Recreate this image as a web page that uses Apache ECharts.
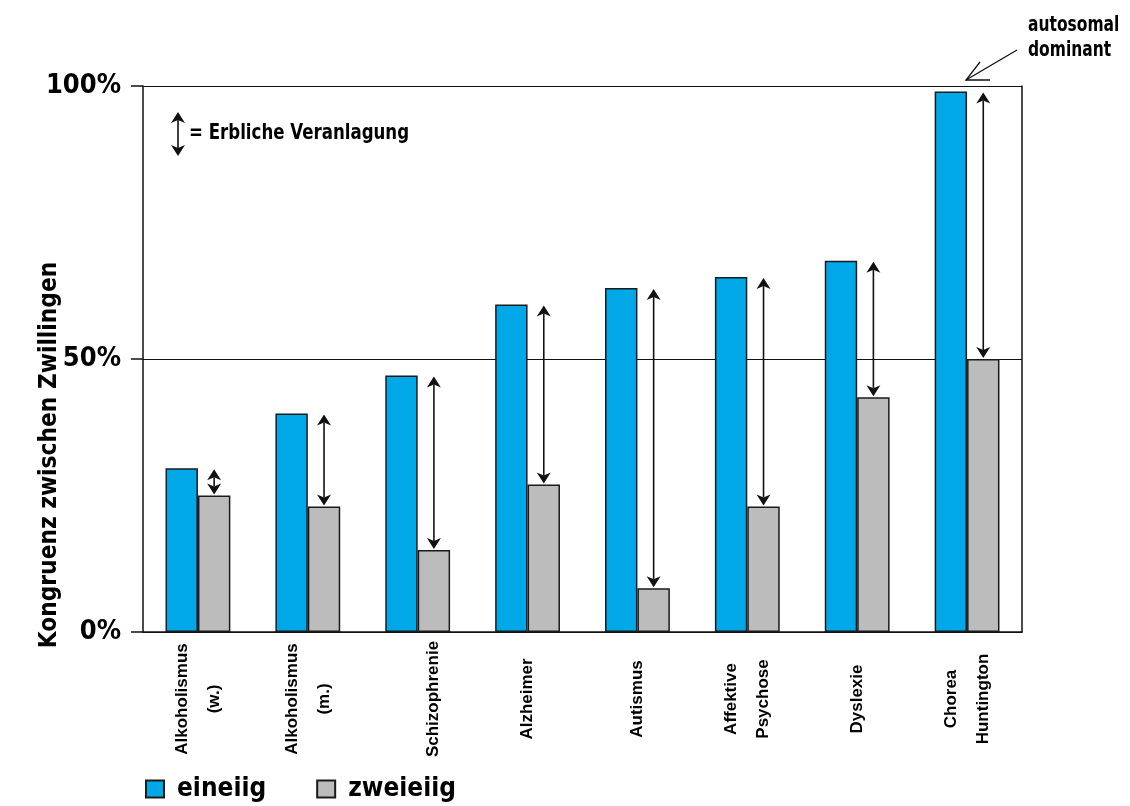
<!DOCTYPE html>
<html><head><meta charset="utf-8">
<script src="https://cdn.jsdelivr.net/npm/echarts@6/dist/echarts.min.js"></script>
<style>html,body{margin:0;padding:0;background:#fff}#c{width:1130px;height:806px}</style>
</head><body><div id="c"></div>
<script>
const categories = ['Alkoholismus\n(w.)', 'Alkoholismus\n(m.)', '\nSchizophrenie', 'Alzheimer', 'Autismus', 'Affektive\nPsychose', 'Dyslexie', 'Chorea\nHuntington'];
const eineiig = [30, 40, 47, 60, 63, 65, 68, 99];
const zweieiig = [25, 23, 15, 27, 8, 23, 43, 50];
const yTickValues = [0, 50, 100];
const seriesNames = ['eineiig', 'zweieiig'];

const NARROW = "'Liberation Sans Narrow', 'DejaVu Sans Condensed', 'Arial Narrow', sans-serif";
const SANS = "'Liberation Sans', Arial, sans-serif";
const BAR_W = 0.295;

const arrowData = categories.map((c, i) => [i, eineiig[i], zweieiig[i]]);

function arrowItem(params, api) {
  const i = api.value(0);
  const top = api.coord([i, api.value(1)]);
  const bot = api.coord([i, api.value(2)]);
  const band = api.size([1, 0])[0];
  const x = top[0] + band * BAR_W / 2;
  const y1 = top[1] + 1, y2 = bot[1] - 1;
  const hw = 7, hl = 11, notch = 8;
  return {
    type: 'group',
    children: [
      { type: 'line', shape: { x1: x, y1: y1 + notch, x2: x, y2: y2 - notch }, style: { stroke: '#111', lineWidth: 1.6 } },
      { type: 'polygon', shape: { points: [[x, y1], [x - hw, y1 + hl], [x, y1 + notch], [x + hw, y1 + hl]] }, style: { fill: '#111' } },
      { type: 'polygon', shape: { points: [[x, y2], [x - hw, y2 - hl], [x, y2 - notch], [x + hw, y2 - hl]] }, style: { fill: '#111' } }
    ]
  };
}

const chart = echarts.init(document.getElementById('c'));
chart.setOption({
  animation: false,
  backgroundColor: '#fff',
  grid: { left: 143, right: 108, top: 86, bottom: 174 },
  legend: {
    data: seriesNames, left: 140, top: 771, icon: 'rect',
    itemWidth: 18, itemHeight: 17, itemGap: 50,
    textStyle: { fontFamily: NARROW, fontWeight: 'bold', fontSize: 26, color: '#000', padding: [0, 0, 0, 8] }
  },
  xAxis: {
    type: 'category', data: categories,
    axisLine: { lineStyle: { color: '#111', width: 1.5 } },
    axisTick: { show: false },
    axisLabel: {
      interval: 0, rotate: 90, align: 'center', verticalAlign: 'middle', margin: 67,
      lineHeight: 32, fontFamily: SANS, fontWeight: 'bold', fontSize: 17, color: '#000'
    }
  },
  yAxis: [{
    type: 'value', min: 0, max: 100, interval: 50,
    axisLine: { show: true, lineStyle: { color: '#111', width: 1.5 } },
    axisTick: { show: true, length: 12, lineStyle: { color: '#111', width: 1.5 } },
    axisLabel: {
      formatter: v => yTickValues.includes(v) ? v + '%' : '', margin: 22,
      fontFamily: NARROW, fontWeight: 'bold', fontSize: 27, color: '#000'
    },
    splitLine: { show: true, lineStyle: { color: '#111', width: 1.2 } }
  }, {
    type: 'value', min: 0, max: 100, position: 'right',
    axisLine: { show: true, lineStyle: { color: '#111', width: 1.5 } },
    axisTick: { show: false }, axisLabel: { show: false }, splitLine: { show: false }
  }],
  series: [
    { name: seriesNames[0], type: 'bar', data: eineiig, barWidth: (BAR_W * 100) + '%', barGap: '0%',
      itemStyle: { color: '#00a8e8', borderColor: '#1a1a1a', borderWidth: 1.5 } },
    { name: seriesNames[1], type: 'bar', data: zweieiig, barWidth: (BAR_W * 100) + '%', barGap: '0%',
      itemStyle: { color: '#bcbcbc', borderColor: '#1a1a1a', borderWidth: 1.5 } },
    { name: 'arrows', type: 'custom', data: arrowData, renderItem: arrowItem, z: 5,
      encode: { x: 0, y: [1, 2] } }
  ],
  graphic: [
    { type: 'text', x: 49, y: 455, rotation: Math.PI / 2, scaleX: 0.97,
      style: { text: 'Kongruenz zwischen Zwillingen', fontFamily: NARROW, fontWeight: 'bold', fontSize: 25, fill: '#000', textAlign: 'center', textVerticalAlign: 'middle' } },
    { type: 'group', children: [
      { type: 'line', shape: { x1: 178, y1: 120, x2: 178, y2: 148 }, style: { stroke: '#111', lineWidth: 1.6 } },
      { type: 'polygon', shape: { points: [[178, 112], [171, 123], [178, 120], [185, 123]] }, style: { fill: '#111' } },
      { type: 'polygon', shape: { points: [[178, 156], [171, 145], [178, 148], [185, 145]] }, style: { fill: '#111' } }
    ] },
    { type: 'text', x: 189, y: 133, scaleX: 0.84,
      style: { text: '= Erbliche Veranlagung', fontFamily: NARROW, fontWeight: 'bold', fontSize: 22, fill: '#000', textVerticalAlign: 'middle' } },
    { type: 'text', x: 1028, y: 13, scaleX: 0.82,
      style: { text: 'autosomal\ndominant', fontFamily: NARROW, fontWeight: 'bold', fontSize: 21, lineHeight: 25, fill: '#000' } },
    { type: 'polyline', shape: { points: [[1017, 50], [966, 80]] }, style: { stroke: '#111', lineWidth: 1.3, fill: null } },
    { type: 'polyline', shape: { points: [[980, 62], [966, 80], [990, 80]] }, style: { stroke: '#111', lineWidth: 1.3, fill: null } }
  ]
});
</script></body></html>
